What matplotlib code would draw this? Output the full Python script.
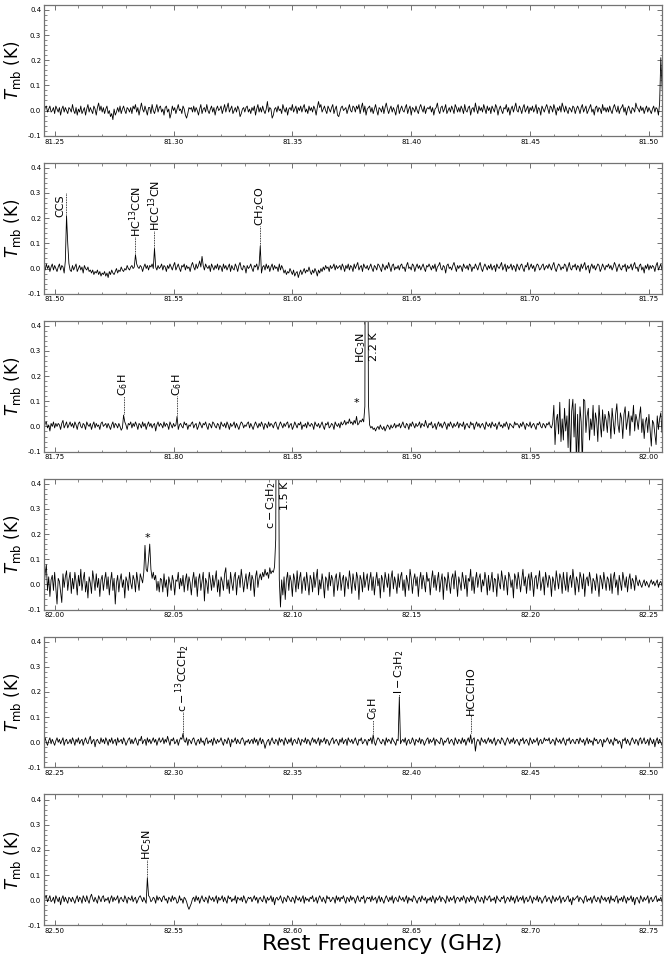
import numpy as np
import matplotlib
matplotlib.use('Agg')
import matplotlib.pyplot as plt
from matplotlib.ticker import MultipleLocator

# spectrum: first channel (GHz) and channel width (GHz)
freq_start = 81.245
chan_width = 0.0005
unit = 0.006  # baseline values below are in units of 6 mK

# baseline (noise) per panel, 500 channels each (last one 522)
base_seg1 = [1, -2, 2, 3, -1, 1, 3, -1, 0, 2, -2, 3, 1, -1, 2, -3, 1, 3, -1, 2, 0, -2, 2, 1, -1,
             4, 0, -2, 2, -3, 1, -1, 3, -2, 0, 2, -3, 1, 4, -1, 2, 0, -2, 3, 1, -3, 2, 5, 0, 3,
             -1, 2, -2, 1, 3, -2, 0, -4, -2, -6, 1, -3, -1, 2, -1, 3, -2, 1, 3, 0, -2, 2, 1, -1, 2,
             -2, 3, 1, 4, -1, 2, -3, 1, 5, 1, -1, 3, 0, -3, 2, 2, -2, 4, 0, -2, 1, 4, -1, 2, 3,
             -1, 1, -3, 2, 3, -1, 1, -5, -2, 3, 0, 2, -2, 1, 4, 0, 1, -2, 3, 1, -3, -5, -2, 2, 1,
             2, -1, 3, -1, 2, 0, -3, 1, 4, -2, 1, 2, -1, 4, 0, -2, 1, 3, -1, 2, -3, 1, 3, 0, 1,
             3, -2, 1, 4, -1, 2, 5, -1, 1, 3, -2, 0, 2, -1, 3, 1, -4, -2, 1, 2, -1, 2, 3, -1, 1,
             -2, 2, 0, 3, -3, 1, 4, -1, 2, -1, 3, 0, -2, 1, 6, -1, 2, 1, -5, -3, 1, 2, -1, 3, 0,
             1, -2, 4, 1, -1, 2, -3, 1, 2, 0, 4, -1, 1, 3, -2, 2, 0, 3, -1, 2, 4, -1, 1, -2, 3,
             0, 2, -1, 3, 1, -3, 2, 6, 2, 4, -1, 1, 3, 0, -2, 3, 1, -1, 2, 4, -2, 1, 3, -3, -4,
             -1, 2, 3, 0, 1, 2, -2, 1, 4, 0, -1, 3, 2, -1, 3, 1, 4, -2, 2, 5, -1, 3, -3, 1, 2,
             3, -1, 2, -2, 1, 4, 0, -3, 2, 1, -1, 3, -2, 2, 5, 1, -2, 1, 3, -1, 2, 0, -3, 2, 4,
             -2, 1, 3, 0, -1, 2, 4, -2, 1, 3, -3, 2, 1, -1, 3, 0, -2, 2, 4, 1, -1, 3, -2, 1, 2,
             1, 3, -1, 2, -3, 1, 2, 5, 0, -2, 2, 3, -1, 1, 4, -2, 0, 2, -1, 3, 1, -2, 4, 2, -1,
             2, -1, 3, 1, -2, 4, 0, -1, 2, 3, -3, 1, 2, -1, 5, 1, -2, 3, 0, 2, -1, 4, 1, -2, 3,
             0, 2, -2, 3, 1, -1, 4, 2, -3, 1, 3, 0, -2, 2, 1, 4, -1, 2, -3, 1, 3, -1, 2, 5, 0,
             -1, 3, 1, -2, 2, 4, -1, 1, 3, -2, 2, 0, 3, -1, 1, 4, -2, 2, 1, -3, 3, 1, -1, 2, 4,
             1, -2, 3, 2, -1, 4, 1, -3, 2, 0, 3, -1, 5, 2, -1, 3, 0, -2, 2, 1, -1, 3, 2, -2, 1,
             3, 1, -2, 2, 4, -1, 1, 3, -2, 0, 2, 4, -1, 1, -3, 2, 3, -1, 2, 1, -2, 4, 0, 2, -1,
             2, -1, 3, 0, -2, 2, 4, 1, -1, 3, -2, 1, 2, 4, -1, 2, -3, 1, 3, 0, -2, 2, 1, -1, 5]

base_seg2 = [2, 1, -1, 3, 0, 2, -2, 1, 3, -1, 2, 0, -2, 1, 3, -1, 2, 1, -3, 0, 0, 0, 1, -1, -2,
             2, -1, 1, 3, -2, 0, 2, -1, 1, -3, 2, 0, -1, 1, -2, -1, -3, -1, -4, -2, -3, -1, -4, -2, -5,
             -3, -4, -2, -5, -3, -6, -2, -4, -1, -3, -4, -2, 0, -3, -1, -2, 1, -1, -2, 0, -1, 2, 0, -1, 1,
             2, 0, 1, -1, 3, 1, 0, 2, 1, -2, 1, 3, 0, 2, -1, 2, 1, 3, 0, 2, 1, -1, 2, 0, 1,
             3, -1, 2, 1, -2, 2, 0, 3, 1, -1, 2, 4, -1, 1, 3, 0, -2, 2, 1, 3, -1, 2, 0, 1, -2,
             2, 4, 1, -1, 3, 0, 2, 5, 1, 8, 2, -1, 3, 1, 0, 2, -2, 3, 1, -1, 2, 0, 3, -1, 2,
             1, -2, 3, 0, 2, -1, 1, 3, -2, 2, 0, -1, 3, 1, -2, 2, 4, 0, -1, 2, 1, -3, 2, 0, 1,
             3, 0, -2, 2, 1, 3, -1, 2, 0, -3, 1, 2, -1, 3, 0, 2, -2, 1, 3, -1, 2, 0, 1, -2, 3,
             -1, 2, 0, -3, -1, -4, -2, -3, 0, -2, -4, -1, -5, -3, -2, -6, -3, -1, -4, -2, 0, -3, -1, -2, 1,
             -2, -4, -1, -3, 0, -2, -5, -1, -3, 0, -2, 1, -1, 2, 0, 1, -2, 2, 0, 1, 3, -1, 2, 0, 1,
             2, -1, 3, 1, -2, 2, 0, 3, -1, 2, 1, -2, 3, 0, 2, 4, -1, 1, 2, -2, 3, 1, 0, 2, -1,
             1, 3, 0, -2, 2, 1, -1, 3, 2, 0, -2, 3, 1, -1, 2, 0, 4, 1, -2, 2, 3, -1, 1, 0, 2,
             -1, 2, 3, 0, 1, -2, 2, 4, 0, 1, -1, 3, 2, -2, 1, 3, 0, 2, -1, 1, 3, 0, -2, 2, 1,
             3, 1, -1, 2, 0, 3, -2, 1, 2, 4, 0, -1, 2, 1, -3, 2, 3, 0, 1, -1, 2, 4, 1, -2, 2,
             0, 2, 1, -2, 3, 1, 0, 2, -1, 3, 2, -2, 1, 0, 3, 1, -1, 2, 4, 0, -2, 1, 3, 1, -1,
             2, 0, 3, -1, 1, 2, -2, 3, 1, 0, 2, 4, -1, 1, 3, -2, 2, 0, 1, 3, -1, 2, 1, -2, 3,
             1, -1, 2, 3, 0, -2, 2, 1, 4, -1, 1, 3, 0, 2, -2, 1, 3, 2, -1, 0, 2, 3, -1, 1, 2,
             0, 3, 1, -1, 2, 4, 0, -2, 1, 3, 2, -1, 1, 0, 3, 2, -2, 1, 4, 0, -1, 2, 1, 3, -1,
             2, 1, -2, 3, 0, 2, 4, -1, 1, 2, -3, 1, 3, 0, 2, -1, 1, 3, 2, -2, 0, 3, 1, -1, 2,
             1, 3, 0, 2, -1, 1, 4, 2, -2, 1, 3, 0, -1, 2, 1, 3, -2, 2, 0, 1, 3, -1, 2, 4, 0]

base_seg3 = [1, -2, 2, 3, -1, 1, -3, 2, 0, 3, -1, 2, 0, 2, 1, -2, 2, 4, -1, 1, 3, -1, 1, 3, 0,
             2, -1, 3, 1, -2, 2, 3, 0, -1, 2, 1, -2, 3, 1, 0, 2, -2, 1, 3, -1, 2, 0, 1, -2, 2,
             3, 0, 1, 2, -1, 2, 0, -2, 1, 3, -1, 2, 1, -1, 2, 0, -3, -1, 0, 3, 1, -2, 2, 1, 3,
             -1, 2, 0, 3, 1, -2, 2, 1, -1, 3, 0, 2, -2, 1, 3, 0, 2, -1, 1, 2, -3, 1, 3, 0, 2,
             1, -1, 3, 0, 2, 1, -2, 3, 1, -1, 2, 0, 1, 3, -2, 1, 2, 0, -1, 3, 1, 2, -2, 1, 0,
             2, 3, -1, 1, 2, -2, 0, 3, 1, -1, 2, 1, 3, 0, -2, 2, 1, -1, 3, 2, 0, -1, 2, 1, -2,
             3, 1, 0, 2, -1, 3, 1, -2, 2, 0, 1, 3, -1, 2, 0, -2, 1, 3, 2, -1, 1, 0, 2, 3, -1,
             2, 0, -2, 1, 3, 1, -1, 2, 0, 3, 1, -2, 2, 1, -1, 3, 0, 2, 1, -1, 2, 3, 0, -2, 1,
             3, 1, -1, 2, 0, 2, 3, -1, 1, 2, -2, 0, 3, 1, -1, 2, 1, 3, -2, 1, 0, 2, -1, 3, 1,
             0, 2, 1, -2, 3, 1, 0, 2, -1, 1, 3, 0, -2, 2, 1, 3, -1, 0, 2, 1, -2, 3, 1, 0, 2,
             -1, 3, 1, 2, 4, 1, 3, 2, 5, 2, 3, 1, 4, 2, 3, 1, 2, 4, 3, 5, 3, 2, 1, 3, 2,
             1, -1, 0, -2, -1, -3, -1, 0, -2, 1, -1, -2, 0, -3, -1, 1, 0, -2, 1, -1, 0, 2, -1, 1, 0,
             2, -1, 1, 3, 0, -1, 2, 1, -2, 2, 0, 3, 1, -1, 2, 0, 1, 3, -1, 2, 1, 0, 4, 1, -1,
             2, 1, 3, -1, 0, 2, -2, 1, 3, 0, 2, -1, 1, 3, 1, -2, 2, 0, 3, 1, -1, 2, 0, 1, 3,
             -1, 2, 1, 0, 3, -2, 1, 2, 0, -1, 3, 1, 2, -2, 1, 3, 0, 2, -1, 1, 2, 0, -2, 3, 1,
             0, 2, -1, 3, 1, 0, 2, -2, 1, 3, 0, 1, -1, 2, 0, 3, 1, -2, 2, 1, 0, -1, 3, 1, 2,
             1, -1, 2, 0, 3, 1, -2, 2, 1, 0, 3, -1, 1, 2, 0, -2, 2, 1, 3, 0, -1, 2, 1, -1, 2,
             1, 3, 0, -1, 2, 14, -12, 4, 8, -5, 16, -10, 5, -9, 12, -3, 7, -14, 18, -24, 10, 18, -7, 15, -26,
             8, -22, 13, 3, -26, 18, 17, -4, 7, 12, -9, 5, -2, 14, -6, 9, 4, -10, 14, 2, -7, 11, -3, 8, 4,
             -4, 10, 6, -8, 12, 3, -5, 8, 15, 1, -4, 9, 5, -8, 8, 13, -2, 4, 10, -6, 7, 3, 14, -3, 8]

base_seg4 = [4, -2, 7, 13, -4, 5, -8, 3, 6, -4, 8, -3, -13, 4, 2, -5, -12, 7, -2, 5, 9, -4, 3, 8, -6,
             4, -3, 8, 2, -7, 6, -1, 10, -4, 3, 8, -5, 2, -9, 5, 1, -6, 9, 3, -4, 7, -2, 4, -8, 3,
             6, -4, 3, 8, -3, 5, -7, 2, 8, -4, 4, -13, 1, 6, -5, 3, 7, -2, 3, -9, 5, 2, -4, 8, 1,
             -3, 6, 3, -5, 8, 2, -4, 7, 4, 1, 8, 3, 5, 8, 4, 7, 10, 4, 8, 3, 6, -4, 2, -5, 4,
             3, -5, 7, -2, 3, -8, 5, 1, -4, 6, 2, -7, 3, 2, 8, -3, 4, -1, 6, -5, 3, 7, -4, 5, 1,
             -7, 3, 8, -2, 5, -8, 3, 7, -4, 2, 8, -11, 4, 1, -6, 8, 3, -4, 6, -2, 3, 9, -5, 3, -8,
             5, 2, -4, 7, 11, -3, 3, -6, 8, 1, -4, 5, 8, -7, 3, 6, -2, 10, 3, -5, 2, 7, -3, 4, 8,
             -4, 6, 3, -8, 5, 9, -2, 4, 7, 3, 8, 5, 10, 6, 8, 4, 11, 7, 9, 8, 12, 10, 8, 0, 0,
             0, 3, -7, 5, -10, 3, 8, -4, 6, 2, -8, 7, 3, -5, 9, -3, 4, 8, -6, 2, 5, -4, 8, 1, -7,
             6, 3, -5, 8, -2, 4, 10, -7, 3, -3, 7, 1, -9, 5, 3, -4, 8, -1, 6, 3, -8, 4, 7, -4, 2,
             8, -4, 3, 6, -8, 5, 2, -3, 9, 3, -6, 7, 1, -4, 8, 4, -10, 6, 3, -5, 8, -2, 3, 7, -4,
             3, 8, -4, 5, -7, 2, 8, -1, 4, -9, 6, 3, -5, 8, 3, -2, 7, -8, 4, 9, -3, 5, 1, -6, 7,
             -2, 5, 8, -4, 3, -8, 6, 2, -4, 10, 4, -6, 3, 7, -1, 5, -8, 3, 8, -3, 6, 1, -5, 8, 2,
             4, -7, 3, 9, -2, 6, -4, 3, 8, -5, 2, 7, -10, 5, 3, -4, 8, 1, -6, 4, 7, -3, 9, 2, -8,
             5, 1, -4, 8, 3, -3, 6, -8, 4, 2, 10, -4, 5, -6, 3, 8, -2, 4, 7, -5, 3, -1, 8, 3, -7,
             6, -4, 2, 8, -5, 4, 3, -8, 7, 1, -3, 9, 3, -4, 6, 2, -7, 8, 5, -2, 3, -9, 7, 4, -3,
             8, 2, -5, 3, 10, -1, 5, -6, 3, 7, -4, 8, 2, -8, 4, 6, -3, 3, 9, -4, 1, 5, -7, 8, 3,
             -2, 6, 3, -8, 5, 2, -4, 9, 3, -3, 7, 4, -6, 8, 1, -4, 8, -5, 3, 6, -2, 10, 3, -7, 5,
             2, -5, 8, 4, -3, 7, -8, 3, 5, -1, 8, 3, -6, 4, 2, -4, 7, 1, -8, 6, 3, -3, 8, 2, -4,
             5, 3, -4, 7, -6, 4, 8, -2, 3, -7, 6, 1, -4, 8, 3, -2, 5, -5, 3, 7, -3, 4, 2, -4, 6]

base_seg5 = [2, -1, 3, 0, -2, 1, 3, -1, 2, 0, -2, 1, 3, 0, 2, -1, 1, 3, -2, 1, 2, -1, 0, 2, -1,
             3, 1, -2, 2, 0, 3, -1, 1, 2, -2, 1, 3, 0, -1, 2, 4, -1, 1, 2, -3, 1, 2, 0, -1, 3,
             0, 2, -1, 3, 1, -2, 2, 0, 3, -1, 1, 2, -2, 3, 0, 1, 2, -1, 3, 1, -2, 0, 2, 3, -1,
             2, -1, 1, 3, 0, -2, 2, 1, 4, -1, 1, 2, -2, 3, 0, 2, -1, 1, 3, 0, 2, -2, 1, 3, 0,
             1, 3, -1, 2, 0, 4, 1, -2, 2, 1, 3, -1, 0, 2, -2, 1, 3, 2, -1, 1, 0, 3, -2, 2, 1,
             -1, 2, 3, 0, -2, 1, 2, -1, 3, 0, 1, -2, 2, 3, -1, 1, 0, 2, -2, 3, 1, -1, 2, 0, 1,
             3, 0, -2, 2, 1, -1, 3, 1, -3, 2, 0, 1, 3, -1, 2, 0, -1, 2, 3, 1, -2, 1, 0, 2, -1,
             1, 2, -1, 3, 0, 2, -2, 1, 3, -1, 2, 0, -4, -1, 1, 2, -2, 1, 3, 0, -1, 2, 1, -2, 3,
             0, 2, 1, -2, 3, 1, -1, 2, 0, 3, -2, 1, 2, 0, -1, 3, 1, -2, 2, 1, 0, 3, -1, 2, 1,
             -2, 1, 3, 0, 2, -1, 1, 3, -2, 2, 0, 1, 3, -1, 2, 1, -2, 0, 2, 3, -1, 1, 2, 0, -2,
             2, 0, 3, -1, 1, 2, -2, 3, 1, 0, 2, -1, 1, 3, 0, -2, 2, 1, 3, -1, 0, 2, 1, -2, 2,
             1, 3, -1, 2, 0, -2, 1, 3, 2, 0, -1, 2, 1, -2, 3, 0, 2, 1, -1, 3, 1, 0, -2, 2, 1,
             3, -1, 1, 2, 0, 3, -2, 1, 2, -1, 0, 3, 1, -2, 2, 1, 0, 3, -1, 2, 1, -2, 0, 2, 3,
             -1, 2, 0, 1, 3, -2, 2, 1, 0, -1, 3, 2, -2, 1, 0, 2, 3, -1, 1, 2, 0, -2, 3, 1, -1,
             2, 1, -1, 3, 0, 2, -2, 1, 3, 0, 1, -1, 2, 3, -1, 0, 2, 1, -2, 3, 1, 0, 2, -1, 1,
             3, 0, 2, -1, 1, 3, -2, 0, 2, 1, -1, 3, 2, 0, -2, 1, 3, 1, -1, 2, 0, 3, -1, 1, 2,
             0, -2, 2, 1, 3, -1, 1, 2, 0, -2, 3, 1, -1, 2, 0, 1, 3, -2, 1, 2, -1, 0, 3, 1, 2,
             1, 3, -1, 0, 2, 1, -2, 3, 1, 0, 2, -1, 1, 3, 0, -2, 2, 1, 3, -1, 1, 2, 0, -1, 2,
             2, -1, 3, 1, 0, 2, -2, 1, 3, -1, 2, 0, 1, -2, 3, 1, 2, -1, 0, 2, 1, -3, 2, 0, 1,
             3, 1, -1, 2, 0, -2, 3, 1, 2, -1, 1, 0, -4, 2, 1, 3, -1, 2, 0, -2, 1, 3, 1, -1, 2]

base_seg6 = [1, -2, 2, 3, -1, 1, 3, -1, 0, 2, -2, 3, 1, -1, 2, -3, 1, 3, -1, 2, 0, -2, 2, 1, -1,
             2, 0, -2, 1, 3, -1, 2, 1, -2, 3, 1, -1, 3, 0, -2, 2, 4, 1, -1, 2, 0, -2, 3, 1, -1,
             2, 3, -1, 1, 0, 2, -2, 1, 3, -1, 2, 0, 1, 3, -2, 1, 2, 0, -1, 3, 1, -2, 2, 1, 0,
             3, -1, 1, 2, -2, 0, 2, 3, 1, -1, 2, 0, -2, 1, 3, 2, -1, 0, 2, 1, -2, 3, 0, 2, 1,
             -1, 2, 3, 0, 1, -2, 2, 1, -1, 3, 0, 2, 1, -2, -1, 3, 0, 1, -2, 2, 1, -1, -4, -6, -4,
             -2, 1, 2, -1, 3, 0, 2, -2, 1, 3, 0, -1, 2, 1, -2, 3, 1, 0, 2, -1, 1, 3, -2, 2, 0,
             1, 3, -1, 2, 0, -2, 3, 1, 2, -1, 1, 0, 3, -2, 2, 1, 0, 2, -1, 3, 1, -2, 0, 2, 1,
             2, -1, 1, 3, 0, 2, -2, 1, 2, 0, -1, 3, 1, -2, 2, 0, 1, 3, -1, 2, -3, 1, 2, 0, 1,
             3, 0, -2, 2, 1, -1, 3, 2, 0, -1, 2, 1, -2, 3, 1, 0, 2, -1, 1, 3, -2, 2, 0, 1, -1,
             2, 1, 3, -1, 0, 2, -2, 1, 3, 1, -1, 2, 0, -2, 3, 1, 2, -1, 0, 2, 1, -2, 3, 0, 2,
             -1, 2, 1, 3, 0, -2, 2, 1, -1, 3, 0, 2, 1, -2, 1, 3, 0, -1, 2, 1, 3, -2, 0, 2, 1,
             2, -1, 3, 0, 1, 2, -2, 1, 3, -1, 2, 0, -2, 1, 3, 1, -1, 2, 0, 3, -2, 1, 2, 0, -1,
             3, 1, 0, 2, -1, 1, 3, -2, 2, 0, 1, -1, 3, 2, 0, -2, 1, 2, -1, 3, 1, 0, 2, -2, 1,
             0, 2, -1, 3, 1, -2, 2, 0, 1, 3, -1, 2, 1, 0, -2, 3, 1, -1, 2, 0, 1, 3, -2, 1, 2,
             1, -1, 2, 0, 3, 1, -2, 2, 1, -1, 3, 0, 2, 1, -2, 1, 3, 0, -1, 2, 1, -2, 3, 1, 0,
             2, 3, -1, 1, 0, 2, -2, 3, 1, 0, -1, 2, 1, 3, -2, 0, 2, 1, -1, 3, 0, 2, -2, 1, 3,
             -1, 1, 2, 0, 3, -2, 1, 2, -1, 0, 3, 1, -2, 2, 1, 0, 3, -1, 2, 1, -2, 0, 2, 3, -1,
             1, 2, 0, -2, 3, 1, -1, 2, 0, 1, 3, -2, 1, 2, -1, 0, 2, 3, -1, 1, -3, 2, 0, 1, 2,
             3, -1, 2, 1, 0, -2, 2, 3, -1, 1, 0, 2, -2, 1, 3, 0, -1, 2, 1, -2, 3, 1, 0, 2, -1,
             1, 2, -2, 3, 0, 1, -1, 2, 3, -2, 1, 0, 2, -1, 3, 1, -2, 2, 0, 1, 3, -1, 2, -3, 1,
             2, 0, -2, 3, 1, -1, 2, 0, 1, 3, -2, 1, 2, -1, 0, 2, 3, -1, 1, 0, 2, -1]

# emission lines: channel frequency (GHz) and Tmb (K)
line_freq = [81.5045, 81.5050, 81.5055, 81.5060,
             81.5340, 81.5420, 81.5865,
             81.7780, 81.7790, 81.8015, 81.8770,
             81.8805, 81.8810, 81.8815, 81.8820,
             82.0380, 82.0385, 82.0390, 82.0395, 82.0400, 82.0405,
             82.0925, 82.0930, 82.0935, 82.0940, 82.0945, 82.0950,
             82.3040, 82.3840, 82.3950, 82.4250, 82.4270,
             82.5390]
line_tmb = [0.03, 0.21, 0.10, 0.02,
            0.055, 0.08, 0.09,
            -0.015, 0.045, 0.04, 0.04,
            0.08, 2.2, 1.6, 0.09,
            0.155, 0.06, 0.05, 0.10, 0.16, 0.06,
            0.07, 0.18, 1.5, 1.0, 0.02, -0.09,
            0.035, 0.03, 0.18, 0.03, -0.035,
            0.09]

# panel windows (GHz)
panel_lo = [81.2455, 81.4955, 81.7455, 81.9955, 82.2455, 82.4955]
panel_hi = [81.5055, 81.7555, 82.0055, 82.2555, 82.5055, 82.7555]

# line identifications: panel, text x, text bottom, dotted marker (bottom, top)
lab_panel = [1, 1, 1, 1, 2, 2, 2, 2, 3, 3, 4, 4, 4, 4, 5]
lab_text = ['CCS', 'HC$^{13}$CCN', 'HCC$^{13}$CN', 'CH$_2$CO',
            'C$_6$H', 'C$_6$H', '*', 'HC$_3$N\n2.2 K',
            '*', r'$\mathrm{c-C_3H_2}$' + '\n1.5 K',
            r'$\mathrm{c-{}^{13}CCCH_2}$', 'C$_6$H', r'$\mathrm{l-C_3H_2}$', 'HCCCHO',
            'HC$_5$N']
lab_freq = [81.5025, 81.5340, 81.5420, 81.5865,
            81.7790, 81.8015, 81.8770, 81.8812,
            82.0390, 82.0937,
            82.3040, 82.3840, 82.3950, 82.4250,
            82.5390]
lab_y = [0.205, 0.125, 0.15, 0.17,
         0.12, 0.12, 0.075, 0.25,
         0.165, 0.22,
         0.12, 0.09, 0.19, 0.11,
         0.16]
mark_freq = [81.5047, 81.5340, 81.5420, 81.5865,
             81.7790, 81.8015, None, None,
             None, None,
             82.3040, 82.3840, 82.3950, 82.4250,
             82.5390]
mark_y0 = [0.215, 0.06, 0.085, 0.095,
           0.05, 0.045, None, None,
           None, None,
           0.035, 0.035, 0.18, 0.035,
           0.095]
mark_y1 = [0.30, 0.125, 0.15, 0.17,
           0.12, 0.12, None, None,
           None, None,
           0.12, 0.09, 0.19, 0.11,
           0.16]

base = base_seg1 + base_seg2 + base_seg3 + base_seg4 + base_seg5 + base_seg6
tmb = np.array(base, dtype=float) * unit
freq = freq_start + chan_width * np.arange(len(tmb))
for f, t in zip(line_freq, line_tmb):
    tmb[int(round((f - freq_start) / chan_width))] = t

fig, axes = plt.subplots(6, 1, figsize=(6.66, 9.59), dpi=100)
plt.subplots_adjust(left=0.066, right=0.994, top=0.995, bottom=0.035, hspace=0.206)

for i, ax in enumerate(axes):
    ax.plot(freq, tmb, color='black', lw=0.6)
    ax.set_xlim(panel_lo[i], panel_hi[i])
    ax.set_ylim(-0.1, 0.42)

    for p, txt, fx, fy, mx, my0, my1 in zip(lab_panel, lab_text, lab_freq, lab_y,
                                           mark_freq, mark_y0, mark_y1):
        if p != i:
            continue
        if txt == '*':
            ax.text(fx, fy, txt, fontsize=8, ha='center', va='bottom')
            continue
        ax.text(fx, fy, txt, fontsize=8, rotation=90, ha='center', va='bottom',
                multialignment='right')
        if mx is not None:
            ax.plot([mx, mx], [my0, my1], color='black', lw=0.6, ls=(0, (1, 1)))

    ax.xaxis.set_major_locator(MultipleLocator(0.05))
    ax.xaxis.set_minor_locator(MultipleLocator(0.01))
    ax.yaxis.set_major_locator(MultipleLocator(0.1))
    ax.yaxis.set_minor_locator(MultipleLocator(0.02))
    ax.xaxis.set_major_formatter(plt.FormatStrFormatter('%.2f'))
    ax.yaxis.set_major_formatter(plt.FormatStrFormatter('%.1f'))
    ax.tick_params(which='both', direction='in', top=True, right=True, labelsize=5,
                   color='0.35', pad=2)
    ax.tick_params(which='major', length=3.5, width=0.6)
    ax.tick_params(which='minor', length=1.8, width=0.5)
    for sp in ax.spines.values():
        sp.set_color('0.45')
        sp.set_linewidth(0.9)
    ax.set_ylabel(r'$T_{\rm mb}$ (K)', fontsize=12, labelpad=3)

axes[-1].set_xlabel('Rest Frequency (GHz)', fontsize=16, labelpad=0)
axes[-1].xaxis.label.set_x(0.547)

plt.savefig('out.png', dpi=100)
